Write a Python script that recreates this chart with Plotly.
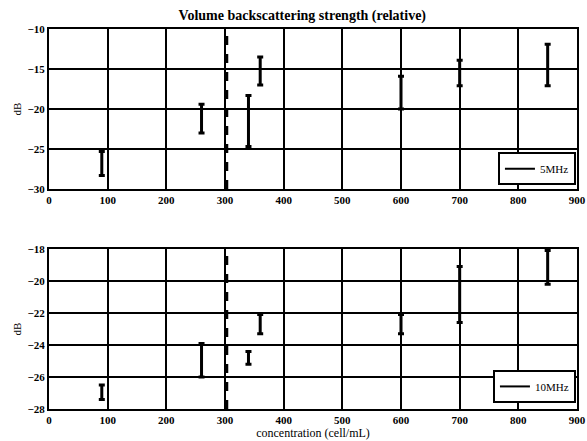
import plotly.graph_objects as go

# concentration (cell/mL)
conc = [90, 260, 340, 360, 600, 700, 850]

# 5 MHz: error bar lower/upper bounds (dB)
low_5 = [-28.3, -23.0, -24.7, -17.0, -20.0, -17.1, -17.1]
high_5 = [-25.3, -19.4, -18.3, -13.5, -15.9, -13.9, -11.9]

# 10 MHz: error bar lower/upper bounds (dB)
low_10 = [-27.4, -26.0, -25.2, -23.3, -23.3, -22.6, -20.2]
high_10 = [-26.5, -23.9, -24.4, -22.1, -22.1, -19.1, -18.1]

threshold_x = 303

x_ticks = [0, 100, 200, 300, 400, 500, 600, 700, 800, 900]
y_ticks_top = [-30, -25, -20, -15, -10]
y_ticks_bot = [-28, -26, -24, -22, -20, -18]

FONT = "Liberation Serif"


def mid_err(lo, hi):
    mids = [(a + b) / 2 for a, b in zip(lo, hi)]
    errs = [(b - a) / 2 for a, b in zip(lo, hi)]
    return mids, errs


fig = go.Figure()

for lo, hi, xa, ya, name, leg in [
    (low_5, high_5, "x", "y", "5MHz", "legend"),
    (low_10, high_10, "x2", "y2", "10MHz", "legend2"),
]:
    mids, errs = mid_err(lo, hi)
    fig.add_trace(go.Scatter(
        x=conc, y=mids, mode="markers",
        marker=dict(size=1, color="black", opacity=0),
        error_y=dict(type="data", array=errs, visible=True, color="black",
                     thickness=3, width=3),
        xaxis=xa, yaxis=ya, showlegend=False, hoverinfo="skip"))
    fig.add_trace(go.Scatter(
        x=[None], y=[None], mode="lines", name=name,
        line=dict(color="black", width=2),
        xaxis=xa, yaxis=ya, showlegend=True, legend=leg))

for xr, yr in [("x", "y domain"), ("x2", "y2 domain")]:
    fig.add_shape(type="line", xref=xr, yref=yr, x0=threshold_x, x1=threshold_x,
                  y0=0, y1=1, line=dict(color="black", width=3, dash="dash"))

axis_common = dict(showline=True, linecolor="black", linewidth=2, mirror=True,
                   showgrid=True, gridcolor="black", gridwidth=2, zeroline=False,
                   automargin=False, ticklabeloverflow="allow",
                   ticks="", tickfont=dict(family=FONT, size=11, color="black", weight="bold"))

fig.update_layout(
    width=587, height=441,
    margin=dict(l=49, r=10, t=29, b=32, autoexpand=False),
    paper_bgcolor="white", plot_bgcolor="white",
    font=dict(family=FONT, color="black"),
    title=dict(text="<b>Volume backscattering strength (relative)</b>",
               x=0.515, xanchor="center", yref="container", y=0.966, yanchor="middle",
               font=dict(family=FONT, size=14, color="black")),
    xaxis=dict(domain=[0, 1], range=[0, 900], tickvals=x_ticks, anchor="y", **axis_common),
    yaxis=dict(domain=[0.5789, 1], range=[-30, -10], tickvals=y_ticks_top, anchor="x",
               title=dict(text="dB", font=dict(family=FONT, size=11), standoff=4), **axis_common),
    xaxis2=dict(domain=[0, 1], range=[0, 900], tickvals=x_ticks, anchor="y2",
                title=dict(text="concentration (cell/mL)", font=dict(family=FONT, size=12), standoff=1),
                **axis_common),
    yaxis2=dict(domain=[0, 0.421], range=[-28, -18], tickvals=y_ticks_bot, anchor="x2",
                title=dict(text="dB", font=dict(family=FONT, size=11), standoff=4), **axis_common),
    legend=dict(x=0.998, y=0.589, xanchor="right", yanchor="bottom",
                bgcolor="white", bordercolor="black", borderwidth=2,
                font=dict(family=FONT, size=11, color="black"),
                itemwidth=30, tracegroupgap=0),
    legend2=dict(x=0.998, y=0.016, xanchor="right", yanchor="bottom",
                 bgcolor="white", bordercolor="black", borderwidth=2,
                 font=dict(family=FONT, size=11, color="black"),
                 itemwidth=30, tracegroupgap=0),
)

fig.write_html("out.html", config={"displayModeBar": False},
               post_script="document.body.style.margin='0px';")
